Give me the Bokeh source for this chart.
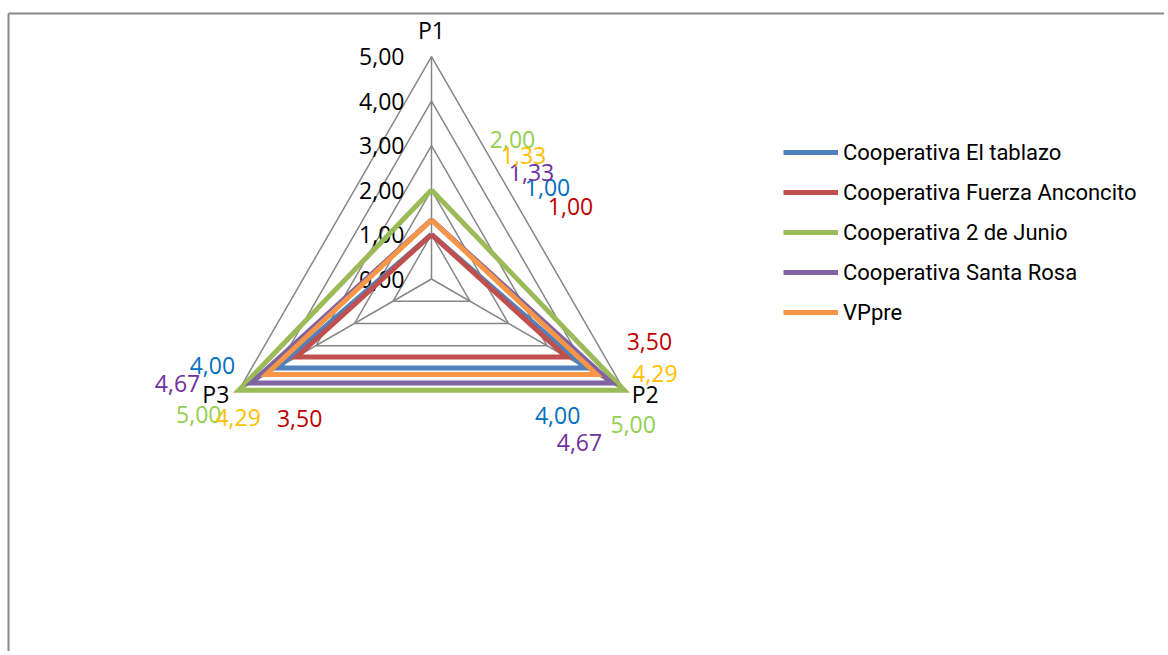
import numpy as np
from bokeh.plotting import figure
from bokeh.models import Range1d, Legend, LegendItem
from bokeh.core.properties import value
from bokeh.embed import file_html
from bokeh.resources import INLINE

# ---------------- data ----------------
axis_names = ["P1", "P2", "P3"]
series_names = ["Cooperativa El tablazo", "Cooperativa Fuerza Anconcito",
                "Cooperativa 2 de Junio", "Cooperativa Santa Rosa", "VPpre"]
el_tablazo = [1.00, 4.00, 4.00]
fuerza_anconcito = [1.00, 3.50, 3.50]
dos_de_junio = [2.00, 5.00, 5.00]
santa_rosa = [1.33, 4.67, 4.67]
vppre = [1.33, 4.29, 4.29]
tick_values = [0, 1, 2, 3, 4, 5]
tick_labels = ["0,00", "1,00", "2,00", "3,00", "4,00", "5,00"]

series_values = [el_tablazo, fuerza_anconcito, dos_de_junio, santa_rosa, vppre]

# ---------------- styles ----------------
line_colors = ["#4F81BD", "#C0504D", "#9BBB59", "#8064A2", "#F79646"]
label_colors = ["#0070C0", "#C00000", "#92D050", "#7030A0", "#FFC000"]
# data label offsets in screen px (dx right, dy down) per series per axis
label_offsets = [
    [(116, -47), (-28, 47.5), (-65, -2.5)],
    [(139, -28), (83, -15.4), (3, 61.6)],
    [(81, -50.5), (9, 34.3), (-40, 24.3)],
    [(100, -47.3), (-32, 59.6), (-74, 0.6)],
    [(92, -64.3), (58, -1), (-28, 43)],
]
axis_label_offsets = [(0, -27), (21, 4), (-23, 4)]
angles = np.deg2rad([90, -30, 210])

S = 44.5             # px per unit
CX, CY = 431, 278.5  # screen position of centre
W, H = 1164, 651
x0 = -CX / S
x1 = x0 + W / S
y1 = CY / S
y0 = y1 - H / S

VAL_FONT = value("Open Sans")
FS = "23px"

p = figure(width=W, height=H, x_range=Range1d(x0, x1), y_range=Range1d(y0, y1),
           output_backend="svg", toolbar_location=None, min_border=0,
           x_axis_location=None, y_axis_location=None)
p.grid.visible = False
p.outline_line_color = None
p.background_fill_color = "white"

# chart-area frame lines (top & left only; the rest lies outside the view)
fx = x0 + 8 / S
fy = (CY - 13) / S
p.segment(x0=[fx, fx], y0=[fy, fy], x1=[x1 + 1, fx], y1=[fy, y0 - 1],
          line_color="#888888", line_width=2)

ca, sa = np.cos(angles), np.sin(angles)

# grid rings
rxs, rys = [], []
for t in tick_values[1:]:
    rxs.append(list(np.append(t * ca, t * ca[0])))
    rys.append(list(np.append(t * sa, t * sa[0])))
p.multi_line(rxs, rys, line_color="#868686", line_width=1.5)
# spokes
rmax = max(tick_values)
p.segment(x0=[0, 0, 0], y0=[0, 0, 0], x1=list(rmax * ca), y1=list(rmax * sa),
          line_color="#868686", line_width=1.5)

# tick labels
p.text(x=[-27 / S] * len(tick_values), y=tick_values, text=tick_labels,
       text_align="right", text_baseline="middle", text_font=VAL_FONT,
       text_font_size=FS, text_color="black")

# axis labels
ax_x = [rmax * ca[i] + axis_label_offsets[i][0] / S for i in range(3)]
ax_y = [rmax * sa[i] - axis_label_offsets[i][1] / S for i in range(3)]
p.text(x=ax_x, y=ax_y, text=axis_names, text_align="center", text_baseline="middle",
       text_font=VAL_FONT, text_font_size=FS, text_color="black")

# series
renderers = []
for k, vals in enumerate(series_values):
    v = np.array(vals)
    xs = list(np.append(v * ca, v[0] * ca[0]))
    ys = list(np.append(v * sa, v[0] * sa[0]))
    r = p.line(xs, ys, line_color=line_colors[k], line_width=5, line_join="miter")
    renderers.append(r)

# data labels
for k, vals in enumerate(series_values):
    v = np.array(vals)
    lx = [v[i] * ca[i] + label_offsets[k][i][0] / S for i in range(3)]
    ly = [v[i] * sa[i] - label_offsets[k][i][1] / S for i in range(3)]
    txt = [f"{x:.2f}".replace(".", ",") for x in vals]
    p.text(x=lx, y=ly, text=txt, text_align="center", text_baseline="middle",
           text_font=VAL_FONT, text_font_size=FS, text_color=label_colors[k])

legend = Legend(items=[LegendItem(label=n, renderers=[r]) for n, r in zip(series_names, renderers)],
                location=(783, 326.5), glyph_width=55, glyph_height=20, label_height=20,
                label_standoff=5, spacing=15, padding=0, margin=0,
                border_line_alpha=0, background_fill_alpha=0,
                label_text_font="Roboto", label_text_font_size="22px",
                label_text_color="black")
p.add_layout(legend)

open("out.html", "w").write(file_html(p, INLINE))
